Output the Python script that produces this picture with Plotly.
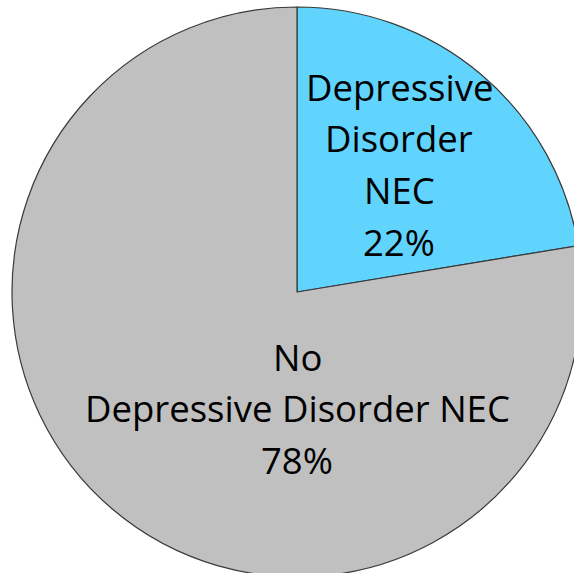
import plotly.graph_objects as go

# Data
labels = ["Depressive Disorder NEC", "No Depressive Disorder NEC"]
values = [22.4, 77.6]
label_lines = [["Depressive", "Disorder", "NEC"], ["No", "Depressive Disorder NEC"]]
colors = ["#61D4FE", "#C0C0C0"]

W, H = 582, 577
ML, MT = 12, 7
side = 570

fig = go.Figure(go.Pie(
    labels=labels,
    values=values,
    sort=False,
    direction="clockwise",
    rotation=0,
    textinfo="none",
    hoverinfo="skip",
    marker=dict(colors=colors, line=dict(color="#3A3A3A", width=1.2)),
    showlegend=False,
))

total = sum(values)
pcts = [f"{round(v / total * 100)}%" for v in values]

def px_to_paper(x, y):
    return (x - ML) / side, 1 - (y - MT) / side

# label block centres (pixel) and line spacing
blocks = [(399, 87), (297, 356.5)]
spacing = 51.5
annotations = []
for (cx, cy0), lines, pct in zip(blocks, label_lines, pcts):
    for i, t in enumerate(lines + [pct]):
        xp, yp = px_to_paper(cx, cy0 + i * spacing)
        annotations.append(dict(
            x=xp, y=yp, xref="paper", yref="paper", text=t, showarrow=False,
            xanchor="center", yanchor="middle",
            font=dict(family="Open Sans", size=36.5, color="#000000"),
        ))

fig.update_layout(
    width=W, height=H,
    margin=dict(l=ML, t=MT, r=W - ML - side, b=H - MT - side, pad=0),
    paper_bgcolor="white", plot_bgcolor="white",
    annotations=annotations,
)

fig.write_html(
    "out.html",
    config={"displayModeBar": False},
    post_script="document.body.style.margin='0';document.body.style.overflow='hidden';",
)
